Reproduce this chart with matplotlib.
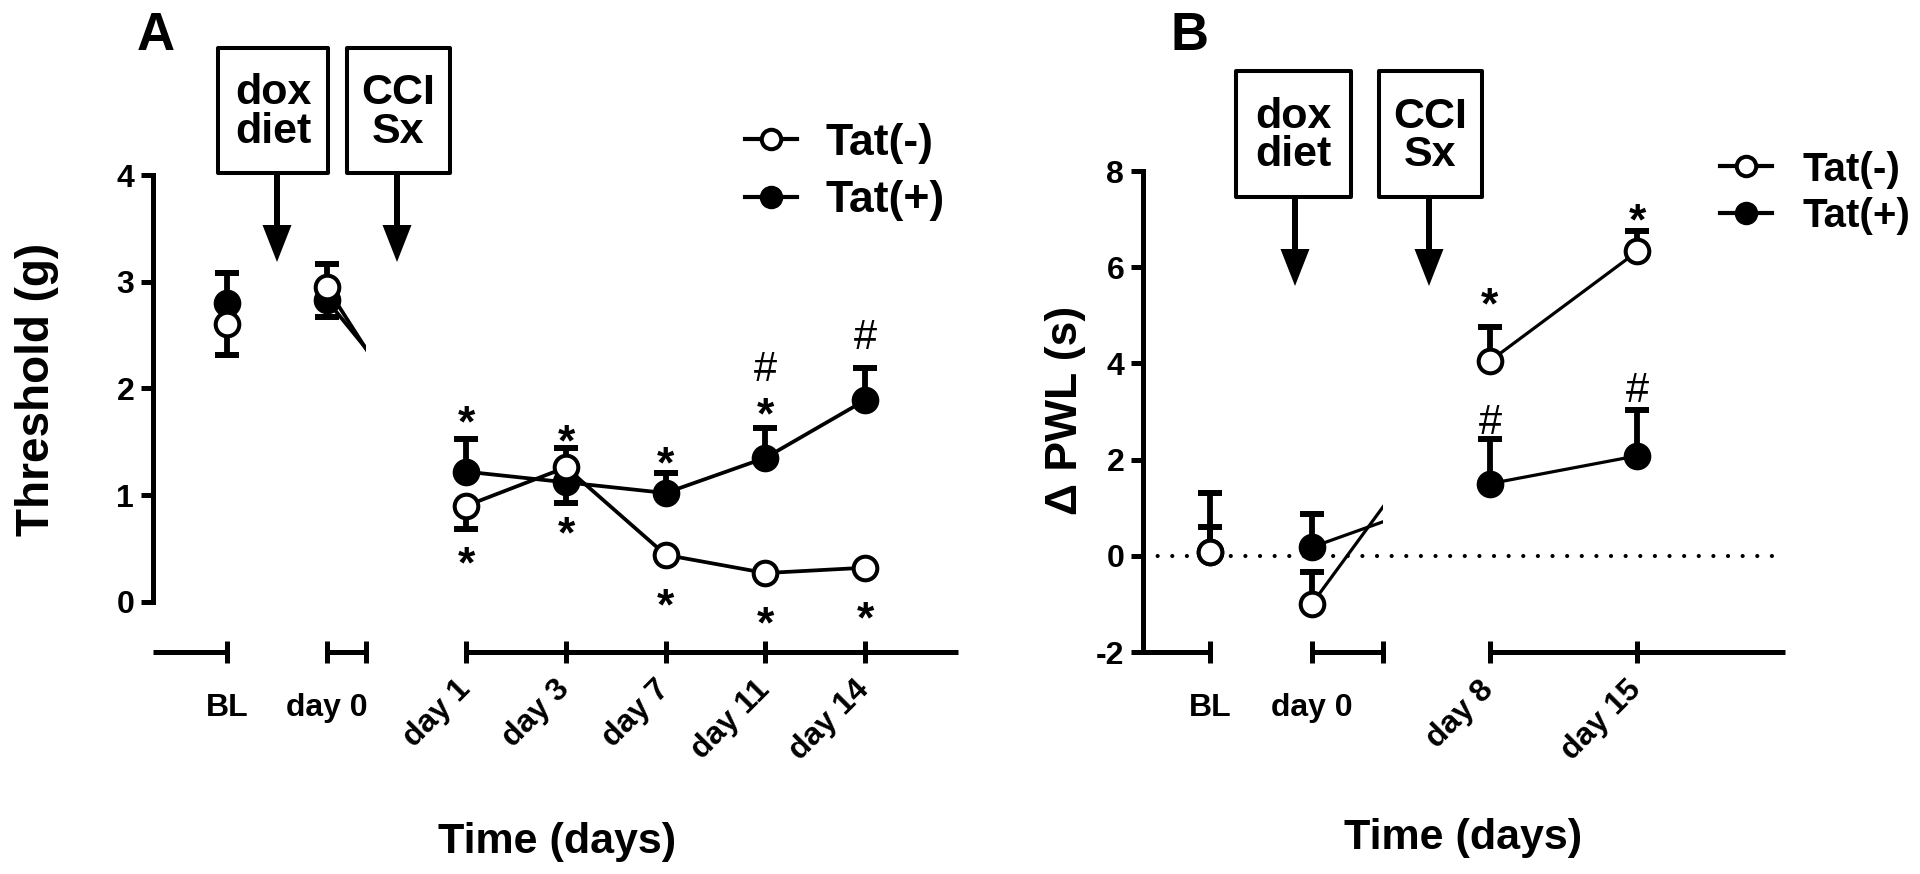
import matplotlib
matplotlib.use("Agg")
import matplotlib.pyplot as plt
import matplotlib.transforms as mtransforms
from matplotlib.lines import Line2D
from matplotlib.patches import Rectangle, FancyArrow

plt.rcParams.update({
    "font.family": "Liberation Sans",
    "font.weight": "bold",
    "axes.linewidth": 3.6,
    "axes.unicode_minus": False,
})

W, H, DPI = 1920, 874, 100

# -----------------------------------------------------------
# Panel A: mechanical threshold (g), mean and one-sided SEM
# -----------------------------------------------------------
a_labels = ["BL", "day 0", "day 1", "day 3", "day 7", "day 11", "day 14"]
a_neg = [2.60, 2.95, 0.90, 1.26, 0.44, 0.27, 0.32]
a_neg_lo = [0.29, 0.0, 0.22, 0.0, 0.0, 0.0, 0.0]
a_neg_hi = [0.0, 0.22, 0.0, 0.18, 0.0, 0.0, 0.0]
a_pos = [2.80, 2.83, 1.22, 1.12, 1.02, 1.35, 1.89]
a_pos_lo = [0.0, 0.16, 0.0, 0.19, 0.0, 0.0, 0.0]
a_pos_hi = [0.28, 0.0, 0.31, 0.0, 0.19, 0.28, 0.30]
a_mark_idx = [2, 2, 3, 3, 4, 4, 5, 5, 5, 6, 6]
a_mark_y = [1.78, 0.46, 1.61, 0.74, 1.40, 0.07, 1.86, 2.21, -0.10, 2.51, -0.05]
a_mark_sym = ["*", "*", "*", "*", "*", "*", "*", "#", "*", "#", "*"]

# -----------------------------------------------------------
# Panel B: change in paw withdrawal latency (s)
# -----------------------------------------------------------
b_labels = ["BL", "day 0", "day 8", "day 15"]
b_neg = [0.08, -1.00, 4.05, 6.33]
b_neg_lo = [0.0, 0.0, 0.0, 0.0]
b_neg_hi = [0.52, 0.67, 0.71, 0.43]
b_pos = [0.08, 0.18, 1.50, 2.08]
b_pos_lo = [0.0, 0.0, 0.0, 0.0]
b_pos_hi = [1.22, 0.68, 0.92, 0.95]
b_mark_idx = [2, 3, 2, 3]
b_mark_y = [5.45, 7.21, 2.85, 3.51]
b_mark_sym = ["*", "*", "#", "#"]

# layout of the broken x axes (category positions and segments)
a_xpos = [0, 1, 2.4, 3.4, 4.4, 5.4, 6.4]
a_segments = [(-0.74, 0), (1, 1.4), (2.4, 7.33)]
b_xpos = [0, 1, 2.75, 4.2]
b_segments = [(-0.66, 0), (1, 1.7), (2.75, 5.65)]

fig = plt.figure(figsize=(W / DPI, H / DPI), dpi=DPI)
# pixel coordinates, origin top-left
PX = mtransforms.Affine2D().scale(1 / W, -1 / H).translate(0, 1) + fig.transFigure


def px_axes(x0, y0, x1, y1):
    return fig.add_axes([x0 / W, 1 - y1 / H, (x1 - x0) / W, (y1 - y0) / H])


def one_sided_errors(ax, xpos, vals, lo, hi, z):
    # draw only the bars that have a length (Prism style, one direction)
    for err, sign in ((hi, 1), (lo, -1)):
        pts = [(x, v, e) for x, v, e in zip(xpos, vals, err) if e > 0]
        if not pts:
            continue
        xs, vs, es = zip(*pts)
        zero = [0.0] * len(es)
        yerr = [zero, list(es)] if sign > 0 else [list(es), zero]
        ax.errorbar(xs, vs, yerr=yerr, fmt="none", ecolor="k", elinewidth=4.2,
                    capsize=8.5, capthick=4.3, zorder=z, clip_on=False)


def draw_panel(ax, xpos, segments, labels, neg, neg_lo, neg_hi, pos, pos_lo, pos_hi, lw):
    blend = mtransforms.blended_transform_factory(ax.transData, ax.transAxes)
    for x0, x1 in segments:
        ax.plot([x0, x1], [0, 0], color="k", lw=3.6, transform=blend,
                clip_on=False, solid_capstyle="butt")
        for vals in (pos, neg):
            ln, = ax.plot(xpos, vals, color="k", lw=lw, zorder=2)
            ln.set_clip_path(Rectangle((x0, 0), x1 - x0, 1, transform=blend))
    one_sided_errors(ax, xpos, pos, pos_lo, pos_hi, 3)
    ax.plot(xpos, pos, "o", ms=17, mfc="k", mec="k", mew=2.9, zorder=4, clip_on=False)
    one_sided_errors(ax, xpos, neg, neg_lo, neg_hi, 5)
    ax.plot(xpos, neg, "o", ms=17, mfc="w", mec="k", mew=2.9, zorder=6, clip_on=False)

    # ticks: category positions plus the end of the "day 0" segment
    ticks = list(xpos) + [segments[1][1]]
    tlabels = list(labels) + [""]
    ax.set_xticks(ticks)
    ax.set_xticklabels(tlabels, fontsize=23)
    ax.set_xlim(segments[0][0], segments[-1][1])
    ax.tick_params(axis="x", direction="inout", length=16.5, width=3.6, pad=21)
    ax.tick_params(axis="y", direction="out", length=8.5, width=3.6, pad=5, labelsize=23)
    for s in ("top", "right", "bottom"):
        ax.spines[s].set_visible(False)
    ax.patch.set_visible(False)
    for i, lbl in enumerate(ax.get_xticklabels()):
        if 2 <= i < len(labels):
            lbl.set_rotation(45)
            lbl.set_ha("right")
            lbl.set_transform(lbl.get_transform() + mtransforms.ScaledTranslation(
                10 / DPI, 18 / DPI, fig.dpi_scale_trans))


def draw_marks(ax, xpos, idx, ys, syms):
    for i, y, s in zip(idx, ys, syms):
        if s == "*":
            size, weight, off = 32, "bold", -18
        else:
            size, weight, off = 30, "normal", -11
        ax.annotate(s, (xpos[i], y), xytext=(0, off), textcoords="offset points",
                    ha="center", va="baseline", fontsize=size, fontweight=weight,
                    annotation_clip=False, zorder=7)


def box_arrow(x0, y0, x1, y1, text, ax_x, tip):
    fig.add_artist(Rectangle((x0, y0), x1 - x0, y1 - y0, transform=PX, fill=False,
                             lw=2.9, ec="k", joinstyle="round"))
    fig.text((x0 + x1) / 2, (y0 + y1) / 2 + 2, text, transform=PX, ha="center",
             va="center", fontsize=31, linespacing=0.95)
    fig.add_artist(FancyArrow(ax_x, y1, 0, tip - y1, width=6, head_width=29,
                              head_length=37, length_includes_head=True,
                              transform=PX, color="k", lw=0))


# ---------------- Panel A
axA = px_axes(153, 175, 958, 652)
axA.set_ylim(-0.47, 4)
axA.set_yticks([0, 1, 2, 3, 4])
axA.spines["left"].set_bounds(0, 4)
draw_panel(axA, a_xpos, a_segments, a_labels, a_neg, a_neg_lo, a_neg_hi,
           a_pos, a_pos_lo, a_pos_hi, lw=2.7)
draw_marks(axA, a_xpos, a_mark_idx, a_mark_y, a_mark_sym)

# ---------------- Panel B
axB = px_axes(1143, 171, 1785, 652)
axB.set_ylim(-2, 8)
axB.set_yticks([-2, 0, 2, 4, 6, 8])
axB.axhline(0, color="k", lw=3.0, ls=(0, (0.01, 3.5)), dash_capstyle="round", zorder=1)
draw_panel(axB, b_xpos, b_segments, b_labels, b_neg, b_neg_lo, b_neg_hi,
           b_pos, b_pos_lo, b_pos_hi, lw=2.3)
draw_marks(axB, b_xpos, b_mark_idx, b_mark_y, b_mark_sym)

# ---------------- annotation boxes
box_arrow(218, 48, 328, 173, "dox\ndiet", 277, 262)
box_arrow(347, 48, 450, 173, "CCI\nSx", 397, 262)
box_arrow(1236, 71, 1351, 197, "dox\ndiet", 1295, 286)
box_arrow(1379, 71, 1482, 197, "CCI\nSx", 1429, 286)


# ---------------- legends
def legend(x, y, size, spacing, pad):
    h_neg = Line2D([], [], color="k", lw=3, marker="o", ms=14, mfc="w", mec="k", mew=2.9)
    h_pos = Line2D([], [], color="k", lw=3, marker="o", ms=14, mfc="k", mec="k", mew=2.9)
    fig.legend([h_neg, h_pos], ["Tat(-)", "Tat(+)"], loc="center left",
               bbox_to_anchor=(x, y), bbox_transform=PX, frameon=False,
               borderpad=0, borderaxespad=0, handlelength=52 / (size * DPI / 72),
               handletextpad=pad, labelspacing=spacing,
               prop={"size": size, "weight": "bold"})


legend(745, 172, 32, 0.38, 0.63)
legend(1720, 193, 29, 0.22, 0.75)

# ---------------- axis titles and panel letters
fig.text(37, 389, "Threshold (g)", transform=PX, rotation=90, ha="center",
         va="center", fontsize=33)
fig.text(1066, 410, "\u0394 PWL (s)", transform=PX, rotation=90, ha="center",
         va="center", fontsize=32)
fig.text(557, 842, "Time (days)", transform=PX, ha="center", va="center", fontsize=31)
fig.text(1463, 838, "Time (days)", transform=PX, ha="center", va="center", fontsize=31)
fig.text(156, 36, "A", transform=PX, ha="center", va="center", fontsize=38)
fig.text(1190, 36, "B", transform=PX, ha="center", va="center", fontsize=38)

fig.savefig("out.png", dpi=DPI)
